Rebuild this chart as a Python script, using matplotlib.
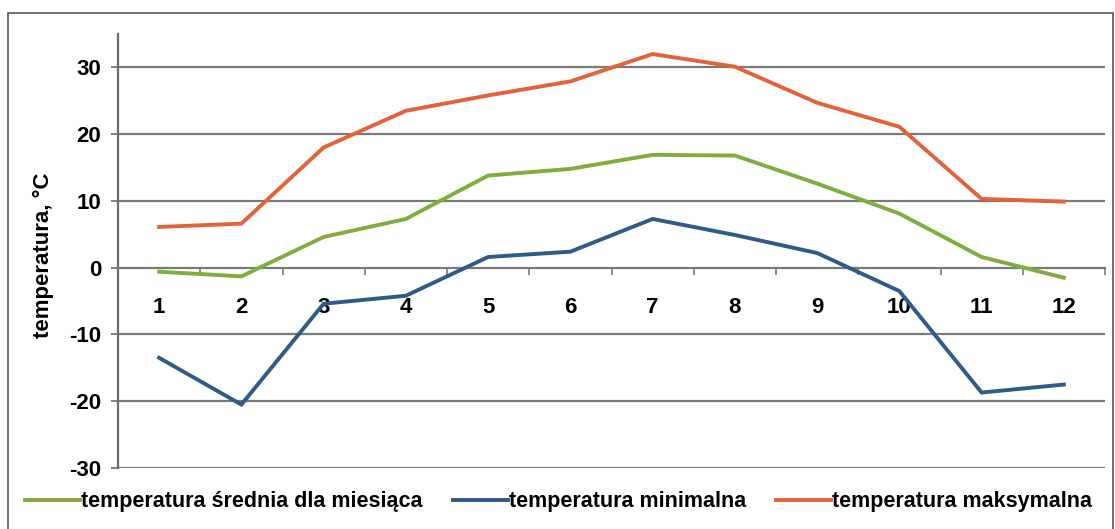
import matplotlib
matplotlib.use("Agg")
import matplotlib.pyplot as plt
from matplotlib.patches import Rectangle
from matplotlib.ticker import FixedLocator

plt.rcParams['font.family'] = ['Liberation Sans', 'DejaVu Sans']

months = [1, 2, 3, 4, 5, 6, 7, 8, 9, 10, 11, 12]
month_labels = [str(m) for m in months]
t_mean = [-0.6, -1.3, 4.6, 7.3, 13.8, 14.8, 16.9, 16.8, 12.6, 8.1, 1.6, -1.5]
t_min = [-13.5, -20.5, -5.4, -4.2, 1.6, 2.4, 7.3, 4.9, 2.2, -3.5, -18.7, -17.5]
t_max = [6.1, 6.6, 18.0, 23.5, 25.8, 27.9, 32.0, 30.1, 24.7, 21.1, 10.3, 9.9]
y_ticks = [-30, -20, -10, 0, 10, 20, 30]

series = [
    ("temperatura średnia dla miesiąca", t_mean, "#7fae3e"),
    ("temperatura minimalna", t_min, "#2f5b88"),
    ("temperatura maksymalna", t_max, "#e4623a"),
]

W, H = 1115, 529
fig = plt.figure(figsize=(W / 100, H / 100), dpi=100)
fig.patch.set_facecolor("white")

# outer chart frame
fig.patches.append(Rectangle((8 / W, -0.05), (W - 10) / W, 1.05 - 13 / H,
                             transform=fig.transFigure, fill=False,
                             edgecolor="#555555", linewidth=1.2))

ax = fig.add_axes([118 / W, 1 - 468 / H, (1105 - 118) / W, (468 - 34) / H])
ax.set_xlim(0.5, 12.5)
ax.set_ylim(-30, 35)

for v in y_ticks:
    if v != 0:
        ax.axhline(v, color="#7a7a7a", linewidth=1.6, zorder=1)

lines = []
for name, vals, col in series:
    ln, = ax.plot(months, vals, color=col, linewidth=2.8, label=name,
                  solid_joinstyle="miter", zorder=3)
    lines.append(ln)

# axes: left spine and a horizontal category axis crossing at zero
for s in ["top", "right"]:
    ax.spines[s].set_visible(False)
ax.spines["left"].set_color("#6a6a6a")
ax.spines["left"].set_linewidth(1.6)
ax.spines["bottom"].set_position(("data", 0))
ax.spines["bottom"].set_color("#7a7a7a")
ax.spines["bottom"].set_linewidth(1.6)

ax.set_yticks(y_ticks)
ax.set_yticklabels([str(v) for v in y_ticks])
ax.tick_params(axis="y", direction="out", length=5, width=1.2,
               color="#6a6a6a", labelsize=16, pad=7)
for lab in ax.get_yticklabels():
    lab.set_fontweight("bold")

ax.set_xticks(months)
ax.set_xticklabels(month_labels)
ax.xaxis.set_minor_locator(FixedLocator([m + 0.5 for m in [0] + months]))
ax.tick_params(axis="x", which="major", length=0, labelsize=16, pad=21)
ax.tick_params(axis="x", which="minor", direction="out", length=5,
               width=1.2, color="#7a7a7a")
for lab in ax.get_xticklabels():
    lab.set_fontweight("bold")
    lab.set_zorder(4)

ax.set_ylabel("temperatura, °C", fontsize=16, fontweight="bold")
ax.yaxis.set_label_coords(-64 / (1105 - 118), (468 - 255) / (468 - 34))

fig.legend(handles=lines, loc="center left", bbox_to_anchor=(25 / W, 1 - 502 / H),
           ncol=3, frameon=False, handlelength=2.55,
           handletextpad=0.05, columnspacing=1.4, borderaxespad=0,
           borderpad=0, prop={"size": 15.5, "weight": "bold"})

fig.savefig("out.png", dpi=100, facecolor="white")
